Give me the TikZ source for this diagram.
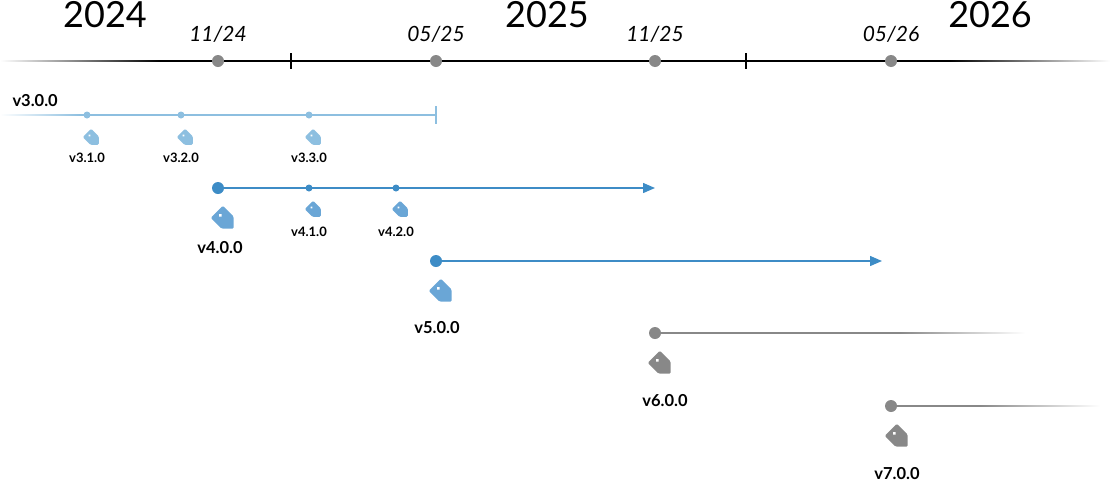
\documentclass[tikz,border=0pt]{standalone}
\usepackage{fontspec}
\setmainfont{Lato}
\usetikzlibrary{arrows.meta}
\definecolor{lb}{HTML}{8DBFE0}
\definecolor{mb}{HTML}{3D8CC6}
\definecolor{tb}{HTML}{6AA6D6}
\definecolor{gr}{HTML}{888888}
\tikzset{
  x=1pt,y=-1pt,
  year/.style={font=\fontsize{36}{36}\selectfont},
  date/.style={font=\itshape\fontsize{21}{21}\selectfont},
  small/.style={font=\bfseries\fontsize{13}{13}\selectfont},
  big/.style={font=\bfseries\fontsize{16.5}{16.5}\selectfont},
  tagpic/.pic={
    \fill[pic actions,rounded corners=1.2] (-6,-5) -- (3,-5) -- (8,0) -- (3,5) -- (-6,5) -- cycle;
    \fill[white] (-3,0) circle (1.1);
  }
}
\begin{document}
\begin{tikzpicture}
\useasboundingbox (0,0) rectangle (1110,480);
% main timeline
\shade[left color=white,right color=black] (0,60.3) rectangle (160,61.7);
\fill[black] (160,60.3) rectangle (950,61.7);
\shade[left color=black,right color=white] (950,60.3) rectangle (1110,61.7);
\foreach \x in {291,746} \draw[line width=1.2pt] (\x,53) -- (\x,69);
\foreach \x/\n in {218/d1,436/d2,655/d3,891/d4} \fill[gr] (\x,61) circle (6) coordinate (\n);
\node[date] (t1) at (218,34) {11/24};
\node[date] (t2) at (436,34) {05/25};
\node[date] (t3) at (655,34) {11/25};
\node[date] (t4) at (891,34) {05/26};
\node[year] (y1) at (105,15) {2024};
\node[year] (y2) at (547,15) {2025};
\node[year] (y3) at (990,15) {2026};
% v3
\shade[left color=white,right color=lb] (0,114.3) rectangle (80,115.7);
\coordinate (v3s) at (80,115); \coordinate (v3e) at (436,115);
\draw[lb,line width=1.4pt] (v3s) -- (v3e);
\draw[lb,line width=1.4pt] (436,106) -- (436,124);
\node[big,anchor=west] (v30) at (9,101) {v3.0.0};
\foreach \x/\l in {87/v3.1.0,181/v3.2.0,309/v3.3.0}{
  \fill[lb] (\x,115) circle (3.5);
  \pic[lb,rotate=-45,scale=1.2] at (\x+5,138) {tagpic};
  \node[small] at (\x,158) {\l};
}
% v4
\fill[mb] (218,188) circle (6) coordinate (v4s);
\coordinate (v4e) at (655,188);
\draw[mb,line width=1.4pt,-{Triangle[length=12pt,width=10pt]}] (v4s) -- (v4e);
\pic[tb,rotate=-45,scale=1.7] at (224,219) {tagpic};
\node[big] (v40) at (220,248) {v4.0.0};
\foreach \x/\l in {309/v4.1.0,396/v4.2.0}{
  \fill[mb] (\x,188) circle (3.5);
  \pic[tb,rotate=-45,scale=1.2] at (\x+5,210) {tagpic};
  \node[small] at (\x,232) {\l};
}
% v5
\fill[mb] (436,261) circle (6) coordinate (v5s);
\coordinate (v5e) at (882,261);
\draw[mb,line width=1.4pt,-{Triangle[length=12pt,width=10pt]}] (v5s) -- (v5e);
\pic[tb,rotate=-45,scale=1.7] at (442,292) {tagpic};
\node[big] (v50) at (437,328) {v5.0.0};
% v6
\fill[gr] (655,333) circle (6) coordinate (v6s);
\fill[gr] (655,332.3) rectangle (900,333.7);
\shade[left color=gr,right color=white] (900,332.3) rectangle (1025,333.7);
\pic[gr,rotate=-45,scale=1.7] at (661,364) {tagpic};
\node[big] (v60) at (665,401) {v6.0.0};
% v7
\fill[gr] (891,406) circle (6) coordinate (v7s);
\fill[gr] (891,405.3) rectangle (980,406.7);
\shade[left color=gr,right color=white] (980,405.3) rectangle (1100,406.7);
\pic[gr,rotate=-45,scale=1.7] at (898,437) {tagpic};
\node[big] (v70) at (897,474) {v7.0.0};
\end{tikzpicture}
\end{document}
